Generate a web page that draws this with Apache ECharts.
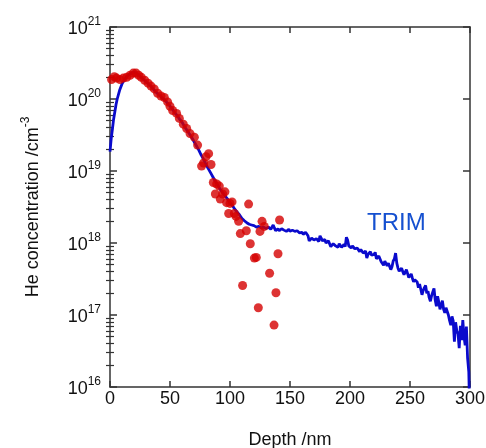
<!DOCTYPE html>
<html>
<head>
<meta charset="utf-8">
<script src="https://cdn.jsdelivr.net/npm/echarts@6/dist/echarts.min.js"></script>
<style>html,body{margin:0;padding:0;background:#fff}#c{width:486px;height:448px}</style>
</head>
<body>
<div id="c"></div>
<script>
// TRIM simulation (depth nm, He concentration cm^-3)
const trimDepth = [0,1,2,3,4,5,6,8,10,12,14,16,18,20,22,24,26,28,30,32,34,36,38,40,42,44,46,48,50,52,54,56,58,60,62,64,66,68,70,72,74,76,78,80,82,84,86,88,90,92,94,96,98,100,102,104,106,108,110,112,114,116,118,120,122,124,126,128,
  130,131,132,133,134,135,136,137,138,139,140,141,142,143,144,145,146,147,148,149,150,151,152,153,154,155,156,157,158,159,160,161,162,163,164,165,166,167,168,169,170,171,172,173,174,175,176,177,178,179,180,181,182,183,184,185,186,187,188,189,190,191,192,193,194,195,196,197,198,199,200,201,202,203,204,205,206,207,208,209,210,211,212,213,214,215,216,217,218,219,220,221,222,223,224,225,226,227,228,229,230,231,232,233,234,235,236,237,238,239,240,241,242,243,244,245,246,247,248,249,250,251,252,253,254,255,256,257,258,259,260,261,262,263,264,265,266,267,268,269,270,271,272,273,274,275,276,277,278,279,280,281,282,283,284,285,286,287,288,289,290,291,292,293,294,295,296,297,298,299,300];
const trimConc = [1.86e19,2.82e19,3.80e19,5.25e19,6.61e19,8.32e19,1.00e20,1.32e20,1.62e20,1.86e20,2.04e20,2.19e20,2.29e20,2.34e20,2.29e20,2.14e20,2.00e20,1.86e20,1.74e20,1.62e20,1.51e20,1.38e20,1.26e20,1.17e20,1.10e20,1.02e20,9.55e19,8.71e19,7.94e19,7.24e19,6.46e19,5.89e19,5.25e19,4.79e19,4.17e19,3.72e19,3.31e19,2.95e19,2.57e19,2.24e19,1.95e19,1.66e19,1.45e19,1.23e19,1.07e19,9.33e18,8.13e18,7.08e18,6.31e18,5.50e18,5.01e18,4.47e18,4.07e18,3.63e18,3.31e18,2.95e18,2.69e18,2.45e18,2.19e18,2.04e18,1.91e18,1.82e18,1.78e18,1.74e18,1.66e18,1.70e18,1.62e18,1.66e18,
  1.58e18,1.62e18,1.66e18,1.70e18,1.55e18,1.51e18,1.78e18,1.62e18,1.48e18,1.55e18,1.58e18,1.48e18,1.51e18,1.58e18,1.55e18,1.51e18,1.48e18,1.45e18,1.51e18,1.55e18,1.45e18,1.41e18,1.51e18,1.48e18,1.45e18,1.38e18,1.48e18,1.51e18,1.38e18,1.45e18,1.41e18,1.32e18,1.35e18,1.41e18,1.38e18,1.26e18,1.07e18,1.12e18,1.17e18,1.20e18,1.10e18,1.05e18,1.15e18,1.15e18,1.05e18,1.26e18,1.17e18,1.07e18,1.02e18,1.12e18,1.00e18,9.55e17,1.07e18,1.05e18,8.91e17,9.33e17,9.77e17,1.02e18,9.12e17,8.91e17,8.71e17,9.77e17,9.33e17,8.71e17,8.51e17,9.55e17,8.91e17,1.20e18,1.10e18,9.12e17,8.71e17,8.51e17,9.12e17,9.33e17,8.32e17,7.94e17,8.51e17,8.71e17,7.59e17,8.13e17,8.13e17,7.24e17,7.41e17,7.76e17,6.17e17,6.92e17,7.24e17,7.59e17,6.76e17,6.46e17,6.92e17,7.41e17,6.03e17,6.17e17,6.61e17,6.46e17,5.50e17,5.25e17,4.90e17,5.62e17,5.75e17,4.79e17,5.25e17,5.50e17,4.27e17,4.68e17,5.62e17,6.03e17,7.24e17,5.25e17,4.47e17,4.07e17,4.17e17,4.47e17,3.98e17,3.63e17,3.72e17,4.27e17,4.07e17,3.31e17,3.47e17,3.72e17,3.24e17,2.88e17,3.09e17,3.24e17,2.88e17,2.40e17,2.69e17,2.82e17,1.91e17,2.19e17,2.40e17,2.57e17,2.00e17,2.14e17,1.74e17,1.55e17,1.86e17,2.09e17,2.34e17,1.62e17,1.32e17,1.82e17,1.51e17,1.20e17,1.38e17,1.58e17,1.20e17,1.07e17,1.26e17,1.32e17,1.00e17,8.32e16,7.24e16,9.55e16,8.32e16,4.27e16,7.94e16,6.03e16,5.50e16,3.47e16,7.08e16,4.47e16,8.51e16,5.01e16,3.80e16,6.92e16,2.51e16,1.62e16,3.0e15];

// Measured (experiment)
const expDepth = [1.3,3.6,5.5,8.3,11.1,13.9,16.7,19.4,21.7,23.9,26.1,28.9,31.7,34.2,36.9,39.7,42.5,45.3,48.0,50.0,52.2,55.5,57.8,61.1,63.9,66.7,70.3,73.0,76.3,78.0,80.0,82.2,84.2,86.1,88.9,87.8,91.1,91.9,93.9,95.8,97.2,98.9,100.0,101.7,103.6,105.0,107.2,108.6,110.5,113.6,115.5,116.9,120.3,121.9,123.6,125.0,126.7,128.6,133.0,136.7,138.3,140.0,141.3];
const expConc = [1.86e20,2.04e20,1.95e20,1.86e20,1.95e20,2.00e20,2.14e20,2.29e20,2.29e20,2.14e20,2.00e20,1.82e20,1.66e20,1.51e20,1.38e20,1.20e20,1.10e20,1.05e20,9.12e19,7.94e19,6.92e19,6.31e19,5.37e19,4.47e19,3.89e19,3.31e19,2.95e19,2.29e19,1.17e19,1.29e19,1.58e19,1.74e19,1.23e19,6.92e18,6.61e18,4.79e18,6.17e18,4.07e18,4.79e18,5.13e18,3.63e18,2.57e18,3.55e18,3.72e18,2.57e18,2.34e18,2.00e18,1.35e18,2.57e17,1.48e18,3.47e18,9.77e17,6.17e17,6.31e17,1.26e17,1.45e18,2.00e18,1.70e18,3.80e17,7.24e16,2.04e17,7.08e17,2.09e18];

const xTicks = [0,50,100,150,200,250,300];
const yExponents = [16,17,18,19,20,21];

const FONT = 'Liberation Sans, Arial, sans-serif';
const AX = '#333333';

const minorVals = [];
for (let e = 16; e < 21; e++) for (let m = 2; m <= 9; m++) minorVals.push(m * Math.pow(10, e));
const majorVals = yExponents.map(e => Math.pow(10, e));

const chart = echarts.init(document.getElementById('c'), null, {renderer: 'canvas'});

function yAxisBase(pos) {
  return {
    type: 'log', logBase: 10, min: 1e16, max: 1.00001e21, position: pos,
    splitLine: {show: false}, minorTick: {show: false}, minorSplitLine: {show: false}
  };
}

chart.setOption({
  animation: false,
  backgroundColor: '#ffffff',
  grid: {left: 110, right: 16, top: 27, bottom: 61, containLabel: false, outerBoundsMode: 'none'},
  xAxis: [
    {
      type: 'value', min: 0, max: 300, interval: 50, position: 'bottom',
      axisLine: {show: true, onZero: false, lineStyle: {color: AX, width: 1.5}},
      axisTick: {show: true, inside: true, length: 6, lineStyle: {color: AX, width: 1.5}},
      axisLabel: {show: true, margin: 3, fontSize: 18, color: '#111', fontFamily: FONT,
        customValues: xTicks},
      splitLine: {show: false},
      name: 'Depth /nm', nameLocation: 'middle', nameGap: 44,
      nameTextStyle: {fontSize: 18, color: '#111', fontFamily: FONT}
    },
    {
      type: 'value', min: 0, max: 300, interval: 50, position: 'top',
      axisLine: {show: true, onZero: false, lineStyle: {color: AX, width: 1.5}},
      axisTick: {show: true, inside: true, length: 6, lineStyle: {color: AX, width: 1.5}},
      axisLabel: {show: false}, splitLine: {show: false}
    }
  ],
  yAxis: [
    Object.assign(yAxisBase('left'), {
      axisLine: {show: true, onZero: false, lineStyle: {color: AX, width: 1.5}},
      axisTick: {show: true, inside: true, length: 7, customValues: majorVals, lineStyle: {color: AX, width: 1.5}},
      axisLabel: {
        show: true, margin: 9, customValues: majorVals,
        formatter: v => '{b|10}{s|' + Math.round(Math.log10(v)) + '}',
        rich: {
          b: {fontSize: 18, fontFamily: FONT, color: '#111', verticalAlign: 'bottom'},
          s: {fontSize: 12, fontFamily: FONT, color: '#111', verticalAlign: 'bottom', padding: [0, 0, 10, 0]}
        }
      },
      name: '{a|He concentration /cm}{s|-3}', nameLocation: 'middle', nameGap: 68,
      nameTextStyle: {
        rich: {
          a: {fontSize: 18, fontFamily: FONT, color: '#111', verticalAlign: 'bottom'},
          s: {fontSize: 12, fontFamily: FONT, color: '#111', verticalAlign: 'bottom', padding: [0, 0, 10, 0]}
        }
      }
    }),
    Object.assign(yAxisBase('left'), {
      axisLine: {show: false},
      axisTick: {show: true, inside: true, length: 4, customValues: minorVals, lineStyle: {color: AX, width: 1.2}},
      axisLabel: {show: false}
    }),
    Object.assign(yAxisBase('right'), {
      axisLine: {show: true, onZero: false, lineStyle: {color: AX, width: 1.5}},
      axisTick: {show: true, inside: true, length: 7, customValues: majorVals, lineStyle: {color: AX, width: 1.5}},
      axisLabel: {show: false}
    }),
    Object.assign(yAxisBase('right'), {
      axisLine: {show: false},
      axisTick: {show: true, inside: true, length: 4, customValues: minorVals, lineStyle: {color: AX, width: 1.2}},
      axisLabel: {show: false}
    })
  ],
  series: [
    {
      type: 'line', name: 'TRIM', xAxisIndex: 0, yAxisIndex: 0,
      data: trimDepth.map((d, i) => [d, trimConc[i]]),
      showSymbol: false, symbol: 'none', clip: true,
      lineStyle: {color: '#0a0acc', width: 2.8}, z: 2
    },
    {
      type: 'scatter', name: 'Experiment', xAxisIndex: 0, yAxisIndex: 0,
      data: expDepth.map((d, i) => [d, expConc[i]]),
      symbol: 'circle', symbolSize: 9,
      itemStyle: {color: '#d40000'}, z: 3
    }
  ],
  graphic: [
    {type: 'text', left: 367, top: 211, z: 10,
     style: {text: 'TRIM', fontSize: 24, fontFamily: FONT, fill: '#1550d0'}}
  ]
});
</script>
</body>
</html>
